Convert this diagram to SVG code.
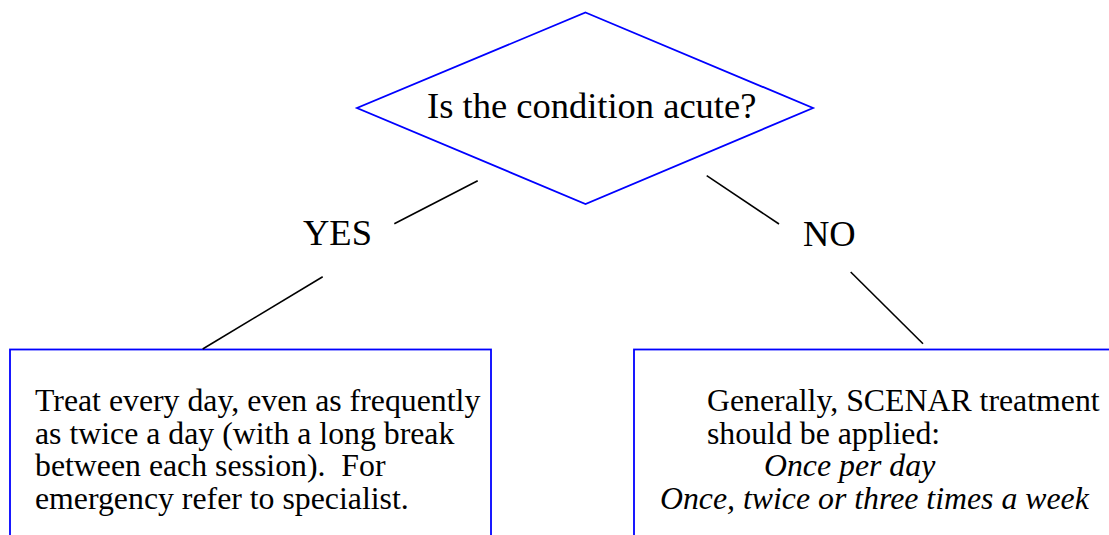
<svg xmlns="http://www.w3.org/2000/svg" width="1109" height="535" viewBox="0 0 1109 535">
<style>
.shape{fill:#ffffff;stroke:#0000ff;stroke-width:1.8}
.conn{stroke:#000000;stroke-width:1.6;fill:none}
text{font-family:"Liberation Serif","Times New Roman",serif;fill:#000000;white-space:pre}
.big{font-size:36.5px}
.body{font-size:31.8px}
.it{font-style:italic}
</style>
<rect width="1109" height="535" fill="#ffffff"/>
<g id="decision">
<polygon class="shape" points="585.5,12.5 813,108 585.5,204 357,108"/>
<text class="big" x="427" y="117.5">Is the condition acute?</text>
</g>
<g id="yes-label"><text class="big" x="303" y="245">YES</text></g>
<g id="no-label"><text class="big" x="803" y="246">NO</text></g>
<g id="yes-box">
<rect class="shape" x="10" y="349.5" width="481" height="200"/>
<text class="body" x="35" y="411">Treat every day, even as frequently</text>
<text class="body" x="35" y="443.5">as twice a day (with a long break</text>
<text class="body" x="35" y="476" xml:space="preserve">between each session).&#160; For</text>
<text class="body" x="35" y="508.5">emergency refer to specialist.</text>
</g>
<g id="no-box">
<rect class="shape" x="634" y="349.5" width="500" height="200"/>
<text class="body" x="707" y="411">Generally, SCENAR treatment</text>
<text class="body" x="707" y="443.5">should be applied:</text>
<text class="body it" x="764" y="476">Once per day</text>
<text class="body it" x="660" y="508.5">Once, twice or three times a week</text>
</g>
<g id="connectors">
<line class="conn" x1="394.3" y1="223.7" x2="477.7" y2="180.7"/>
<line class="conn" x1="202.7" y1="349" x2="322.7" y2="276.7"/>
<line class="conn" x1="706.7" y1="175.7" x2="779" y2="224"/>
<line class="conn" x1="850.7" y1="272" x2="923" y2="343.7"/>
</g>
</svg>
